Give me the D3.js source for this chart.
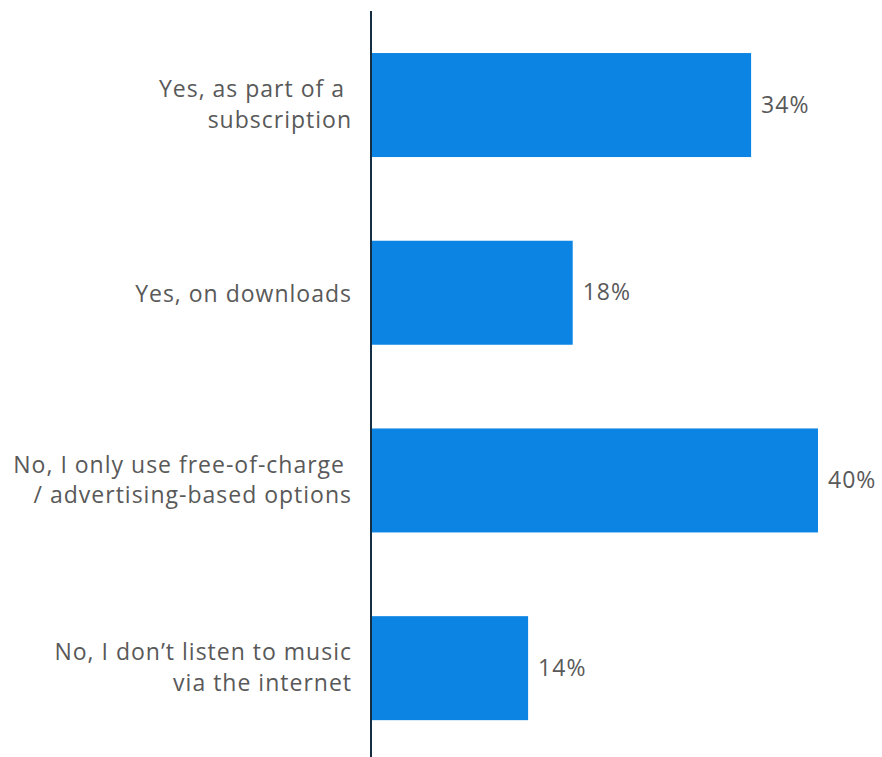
<!DOCTYPE html>
<html>
<head>
<meta charset="utf-8">
<script src="https://cdn.jsdelivr.net/npm/d3@7"></script>
<style>
  html, body { margin: 0; padding: 0; background: #ffffff; }
  svg { display: block; }
  text { font-family: "Open Sans", "Noto Sans", sans-serif; fill: #595959; }
</style>
</head>
<body>
<svg id="chart" width="882" height="757"></svg>
<script>
// Survey answers (category labels, split into display lines)
const categories = [
  "Yes, as part of a subscription",
  "Yes, on downloads",
  "No, I only use free-of-charge / advertising-based options",
  "No, I don’t listen to music via the internet"
];
const labelLines = [
  ["Yes, as part of a ", "subscription"],
  ["Yes, on downloads"],
  ["No, I only use free-of-charge ", "/ advertising-based options"],
  ["No, I don’t listen to music", "via the internet"]
];
// Share of respondents, in percent
const values = [34, 18, 40, 14];

const svg = d3.select("#chart");

const x = d3.scaleLinear().domain([0, 40]).range([372, 818]);
const y = d3.scaleBand()
  .domain(categories)
  .range([15.5, 757.7])
  .paddingInner(0.446)
  .paddingOuter(0.2);

const fontSize = 23;
const spacing = 1;

// Bars
svg.append("g").selectAll("rect")
  .data(values)
  .join("rect")
  .attr("x", x(0))
  .attr("y", (d, i) => y(categories[i]))
  .attr("width", d => x(d) - x(0))
  .attr("height", y.bandwidth())
  .attr("fill", "#0b84e4");

// Value labels
svg.append("g").selectAll("text")
  .data(values)
  .join("text")
  .attr("x", d => x(d) + 10)
  .attr("y", (d, i) => y(categories[i]) + y.bandwidth() / 2 + 7.5)
  .attr("font-size", fontSize)
  .attr("letter-spacing", spacing)
  .text(d => d + "%");

// Category axis: vertical line plus wrapped labels
const yAxis = d3.axisLeft(y).tickSize(0).tickFormat("");
const axisG = svg.append("g").attr("transform", "translate(371,0)").call(yAxis);
axisG.select(".domain").remove();
svg.append("line")
  .attr("x1", 371).attr("x2", 371)
  .attr("y1", 11).attr("y2", 757)
  .attr("stroke", "#152d42")
  .attr("stroke-width", 2);

const lineH = 30.5;
svg.append("g").selectAll("text")
  .data(categories)
  .join("text")
  .attr("text-anchor", "end")
  .attr("font-size", fontSize)
  .attr("letter-spacing", spacing)
  .each(function (c, i) {
    const lines = labelLines[i];
    const cy = y(c) + y.bandwidth() / 2;
    const shift = lines.length > 1 ? 7.5 : 9;
    const first = cy + shift - (lines.length - 1) * lineH / 2;
    d3.select(this).selectAll("tspan")
      .data(lines)
      .join("tspan")
      .attr("x", 352)
      .attr("y", (l, j) => first + j * lineH)
      .attr("xml:space", "preserve")
      .text(l => l);
  });
</script>
</body>
</html>
